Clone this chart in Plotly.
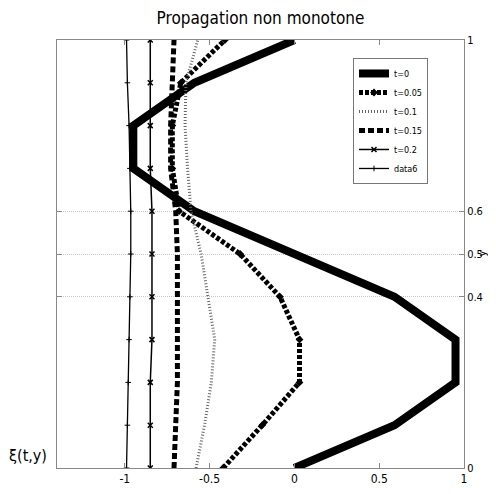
import plotly.graph_objects as go

y_vals = [0, 0.1, 0.2, 0.3, 0.4, 0.5, 0.6, 0.7, 0.8, 0.9, 1.0]
xi_t0 = [0, 0.59, 0.95, 0.95, 0.59, 0, -0.59, -0.95, -0.95, -0.59, 0]
xi_t005 = [-0.42, -0.19, 0.03, 0.03, -0.085, -0.32, -0.68, -0.72, -0.72, -0.67, -0.41]
xi_t01 = [-0.58, -0.53, -0.49, -0.47, -0.51, -0.55, -0.61, -0.63, -0.645, -0.64, -0.57]
xi_t015 = [-0.71, -0.70, -0.69, -0.69, -0.69, -0.69, -0.70, -0.73, -0.73, -0.72, -0.71]
xi_t02 = [-0.85, -0.85, -0.85, -0.84, -0.84, -0.84, -0.84, -0.85, -0.85, -0.85, -0.85]
xi_data6 = [-0.99, -0.985, -0.98, -0.975, -0.97, -0.965, -0.965, -0.97, -0.975, -0.985, -0.99]

x_ticks = [-1, -0.5, 0, 0.5, 1]
x_tick_text = ["-1", "-0.5", "0", "0.5", "1"]
y_ticks = [0, 0.4, 0.5, 0.6, 1]
y_tick_text = ["0", "0.4", "0.5", "0.6", "1"]

FONT = "Noto Sans ExtraCondensed, Noto Sans Condensed, DejaVu Sans Condensed, sans-serif"

W, H = 480, 478
ML, MT, PW, PH = 49, 32, 407, 428

fig = go.Figure()
fig.add_trace(go.Scatter(x=xi_t0, y=y_vals, name="t=0", mode="lines",
                         line=dict(color="black", width=8)))
fig.add_trace(go.Scatter(x=xi_t005, y=y_vals, name="t=0.05", mode="lines+markers",
                         line=dict(color="black", width=5, dash="4px,2px"),
                         marker=dict(symbol="diamond", size=6, color="black")))
fig.add_trace(go.Scatter(x=xi_t01, y=y_vals, name="t=0.1", mode="lines",
                         line=dict(color="#666666", width=3, dash="1px,2px")))
fig.add_trace(go.Scatter(x=xi_t015, y=y_vals, name="t=0.15", mode="lines",
                         line=dict(color="black", width=5, dash="6px,3px")))
fig.add_trace(go.Scatter(x=xi_t02, y=y_vals, name="t=0.2", mode="lines+markers",
                         line=dict(color="black", width=1.5),
                         marker=dict(symbol="x-thin", size=5, color="black",
                                     line=dict(width=1.5, color="black"))))
fig.add_trace(go.Scatter(x=xi_data6, y=y_vals, name="data6", mode="lines+markers",
                         line=dict(color="black", width=1.3),
                         marker=dict(symbol="cross-thin", size=4, color="black",
                                     line=dict(width=1, color="black"))))

fig.update_layout(
    width=W, height=H,
    margin=dict(l=ML, r=W - ML - PW, t=MT, b=H - MT - PH, autoexpand=False),
    paper_bgcolor="white", plot_bgcolor="white",
    font=dict(family=FONT, color="black", size=12),
    title=dict(text="Propagation non monotone", x=(260.5 - 8) / W, xref="container",
               xanchor="center",
               y=1 - 4 / H, yref="container", yanchor="top",
               font=dict(family=FONT, size=17, color="black", weight=500)),
    showlegend=True,
    legend=dict(x=(353 - 57) / PW, y=0.958, xanchor="left", yanchor="top",
                bgcolor="white", bordercolor="#777777", borderwidth=1,
                font=dict(family=FONT, size=9, color="black"),
                itemwidth=30, tracegroupgap=0),
    xaxis=dict(range=[-1.4, 1], tickvals=x_ticks, ticktext=x_tick_text,
               showgrid=False, zeroline=False, showline=True, linecolor="#888888",
               linewidth=1, mirror="ticks", ticks="inside", ticklen=5,
               tickcolor="#888888", automargin=False),
    yaxis=dict(range=[0, 1], tickvals=y_ticks, ticktext=y_tick_text, side="right",
               showgrid=True, gridcolor="#c8c8c8", griddash="1px,1px", gridwidth=1,
               zeroline=False, showline=True, linecolor="#888888", linewidth=1,
               mirror="ticks", ticks="inside", ticklen=5, tickcolor="#888888",
               ticklabelstandoff=0, automargin=False,
               tickfont=dict(family=FONT, size=11, color="black")),
)
fig.add_annotation(text="ξ(t,y)", xref="paper", yref="paper", x=-(57 - 28) / PW, y=0.03,
                   showarrow=False, xanchor="center", yanchor="middle",
                   font=dict(family=FONT, size=16, color="black"))
fig.add_annotation(text="y", xref="paper", yref="paper", x=(W - 6.5 - ML) / PW, y=0.5,
                   showarrow=False, xanchor="center", yanchor="middle", textangle=-90,
                   font=dict(family=FONT, size=11, color="black"))

fig.write_html("out.html")
